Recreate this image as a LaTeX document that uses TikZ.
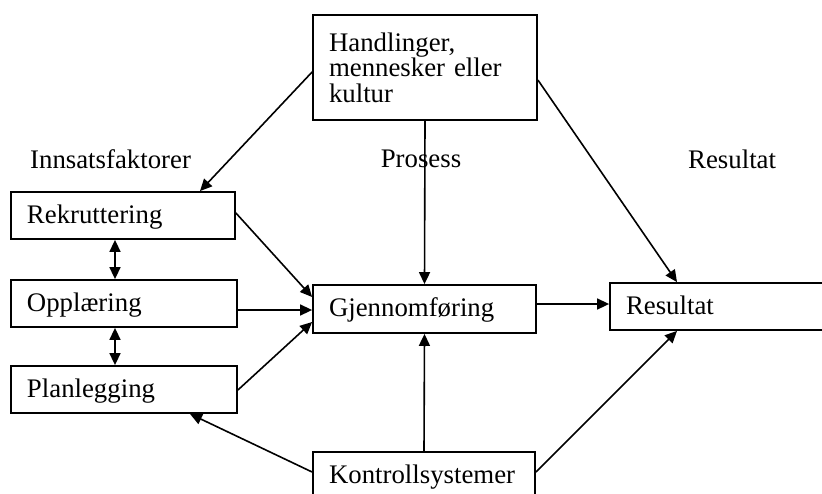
\documentclass[tikz,border=0pt]{standalone}
\usepackage{fontspec}
\setmainfont{Liberation Serif}
\usetikzlibrary{arrows.meta}
\tikzset{
  txt/.style={font=\fontsize{26.8}{25.5}\selectfont, inner sep=0pt},
  box/.style={draw, line width=1.8pt, rectangle, txt, inner xsep=16pt,
    inner ysep=0pt, minimum height=47pt, align=left},
  onebox/.style={box, text height=20pt, text depth=4pt},
  link/.style={line width=1.6pt, -{Triangle[length=12pt,width=11pt]}},
  twoway/.style={line width=1.6pt, {Triangle[length=12pt,width=11pt]}-{Triangle[length=12pt,width=11pt]}}
}
\begin{document}
\begin{tikzpicture}[x=1pt,y=-1pt]
\path[use as bounding box, clip] (0,0) rectangle (822,493);
\fill[white] (0,0) rectangle (822,493);

% column headings
\node[txt, anchor=base west] (hin) at (30,168) {Innsatsfaktorer};
\node[txt, anchor=base] (hpr) at (421,167) {Prosess};
\node[txt, anchor=base west] (hre) at (688,168) {Resultat};

% boxes
\node[box, text width=192pt, minimum height=105pt] (hand) at (425,67.5)
  {Handlinger,\\mennesker eller\\kultur};
\node[onebox, text width=192pt] (rek) at (123,215.5) {Rekruttering};
\node[onebox, text width=194pt] (opp) at (124,303.5) {Opplæring};
\node[onebox, text width=194pt] (plan) at (124,389.5) {Planlegging};
\node[onebox, text width=191pt, minimum height=48pt, text height=19pt, text depth=5pt]
  (gjen) at (424.5,309) {Gjennomføring};
\node[onebox, text width=208pt] (res) at (730,306.5) {Resultat};
\node[onebox, text width=190pt] (kon) at (424,475.5) {Kontrollsystemer};

% connectors
\draw[link] (hand.west |- 0,72) -- (rek.north -| 200,0);
\draw[link] (hand.south) -- (gjen.north);
\draw[link] (hand.east |- 0,80) -- (res.north -| 677,0);

\draw[twoway] (rek.south -| 115,0) -- (opp.north -| 115,0);
\draw[twoway] (opp.south -| 115,0) -- (plan.north -| 115,0);

\draw[link] (rek.east |- 0,213) -- (gjen.west |- 0,297);
\draw[link] (opp.east |- 0,310) -- (gjen.west |- 0,310);
\draw[link] (plan.east |- 0,390) -- (gjen.west |- 0,322);

\draw[link] (gjen.east |- 0,304) -- (res.west |- 0,304);

\draw[link] (kon.north) -- (gjen.south);
\draw[link] (kon.west |- 0,472) -- (plan.south -| 190,0);
\draw[link] (kon.east |- 0,472) -- (res.south -| 677,0);
\end{tikzpicture}
\end{document}
